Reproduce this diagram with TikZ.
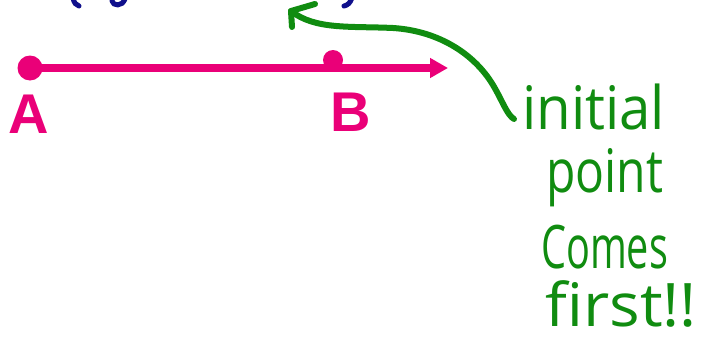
\documentclass[tikz,border=0pt]{standalone}
\usepackage{fontspec}
\setmainfont{Open Sans}
\newfontfamily\labfont{Liberation Sans}
\usetikzlibrary{arrows.meta}
\definecolor{pinkc}{RGB}{234,0,120}
\definecolor{greenc}{RGB}{16,140,16}
\definecolor{navyc}{RGB}{16,16,140}
\tikzset{
  lab/.style={text=pinkc, font=\labfont\bfseries\fontsize{56}{60}\selectfont, inner sep=0pt, anchor=base},
  hand/.style={text=greenc, font=\fontsize{60}{64}\selectfont, inner sep=0pt, anchor=base west},
  frag/.style={draw=navyc, line width=5pt, line cap=round},
  gline/.style={draw=greenc, line width=6pt, line cap=round, line join=round}
}
\begin{document}
\begin{tikzpicture}[x=1pt,y=-1pt]
\useasboundingbox (0,0) rectangle (708,340);
% cropped blue fragments at top
\draw[frag] (73,-2) .. controls (74,3) and (76,5) .. (79,6);
\draw[frag] (112,1) .. controls (113,6) and (122,7) .. (125,-1);
\draw[frag] (352,-2) .. controls (350,3) and (348,5) .. (344,6);
% ray
\coordinate (A) at (30,68);
\coordinate (B) at (333,60);
\coordinate (T) at (448,68);
\fill[pinkc] (A) circle (12.5);
\fill[pinkc] (B) circle (10);
\draw[pinkc, line width=8pt, -{Triangle[length=18pt,width=19pt]}] (A) -- (T);
\node[lab] (la) at (29,133) {A};
\node[lab] (lb) at (351,131) {B};
% green note
\node[hand, xscale=0.94] (h1) at (522,129) {initial};
\node[hand, xscale=0.80] (h2) at (546,192) {point};
\node[hand, xscale=0.66] (h3) at (541,268) {Comes};
\node[hand, xscale=1.07] (h4) at (545,326) {first!!};
\coordinate (gtip) at (291,11);
\coordinate (gend) at (514,119);
\draw[gline] (gtip) .. controls (315,30) and (350,26) .. (393,28)
  .. controls (440,31) and (475,55) .. (493,85)
  .. controls (502,100) and (507,115) .. (gend);
\draw[gline] (315,4) -- (gtip) -- (292,27);
\end{tikzpicture}
\end{document}
